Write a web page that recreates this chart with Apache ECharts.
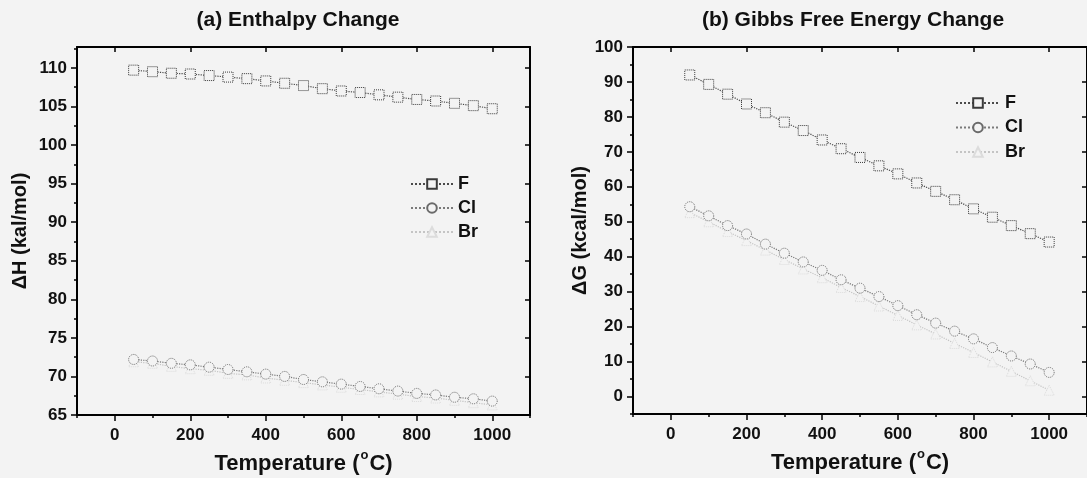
<!DOCTYPE html>
<html>
<head>
<meta charset="utf-8">
<script src="https://cdn.jsdelivr.net/npm/echarts@6/dist/echarts.min.js"></script>
<style>
  html, body { margin: 0; padding: 0; background: #f3f3f3; }
  #main { width: 1087px; height: 478px; }
</style>
</head>
<body>
<div id="main"></div>
<script>
var temps = [50, 100, 150, 200, 250, 300, 350, 400, 450, 500, 550, 600, 650, 700, 750, 800, 850, 900, 950, 1000];

// (a) enthalpy, kcal/mol
var dH_F  = [109.7, 109.5, 109.3, 109.2, 109.0, 108.8, 108.6, 108.3, 108.0, 107.7, 107.3, 107.0, 106.8, 106.5, 106.2, 105.9, 105.7, 105.4, 105.1, 104.7];
var dH_Cl = [72.2, 72.0, 71.7, 71.5, 71.2, 70.9, 70.6, 70.3, 70.0, 69.6, 69.3, 69.0, 68.7, 68.4, 68.1, 67.8, 67.6, 67.3, 67.1, 66.8];
var dH_Br = [71.9, 71.7, 71.3, 71.0, 70.8, 70.4, 70.2, 69.8, 69.5, 69.2, 68.9, 68.6, 68.3, 68.0, 67.7, 67.4, 67.2, 66.9, 66.6, 66.3];

// (b) Gibbs free energy, kcal/mol
var dG_F  = [92.0, 89.3, 86.5, 83.7, 81.2, 78.5, 76.1, 73.4, 70.9, 68.4, 66.0, 63.7, 61.1, 58.7, 56.3, 53.7, 51.3, 48.9, 46.6, 44.2];
var dG_Cl = [54.3, 51.7, 48.9, 46.5, 43.6, 41.0, 38.5, 36.1, 33.4, 31.0, 28.6, 26.0, 23.4, 21.0, 18.7, 16.5, 14.0, 11.6, 9.3, 6.9];
var dG_Br = [52.6, 50.0, 47.2, 44.6, 41.9, 39.2, 36.5, 34.0, 31.2, 28.6, 25.9, 23.2, 20.5, 17.9, 15.2, 12.6, 9.9, 7.2, 4.5, 1.8];

var xMajor = [0, 200, 400, 600, 800, 1000];
var xMinor = [-100, 100, 300, 500, 700, 900, 1100];
var yMajorA = [65, 70, 75, 80, 85, 90, 95, 100, 105, 110];
var yMinorA = [67.5, 72.5, 77.5, 82.5, 87.5, 92.5, 97.5, 102.5, 107.5, 112.5];
var yMajorB = [0, 10, 20, 30, 40, 50, 60, 70, 80, 90, 100];
var yMinorB = [-5, 5, 15, 25, 35, 45, 55, 65, 75, 85, 95];

var bg = '#f3f3f3';
var font = '"Liberation Sans", Arial, sans-serif';

function pairs(xs, ys) {
    return xs.map(function (x, i) { return [x, ys[i]]; });
}

function plain(v) { return String(v); }

var tickLabel = { fontFamily: font, fontSize: 17, fontWeight: 'bold', color: '#111', formatter: plain };

function xAxesFor(g, gap) {
    return [
        {
            gridIndex: g, type: 'value', position: 'bottom', min: -100, max: 1100,
            name: '{t|Temperature (}{sup|o}{t|C)}', nameLocation: 'middle', nameGap: gap,
            nameTextStyle: {
                rich: {
                    t: { fontFamily: font, fontSize: 22, fontWeight: 'bold', color: '#111', lineHeight: 26, verticalAlign: 'bottom' },
                    sup: { fontFamily: font, fontSize: 13, fontWeight: 'bold', color: '#111', lineHeight: 26, verticalAlign: 'top', padding: [0, 1, 0, 1] }
                }
            },
            axisLine: { show: true, onZero: false, lineStyle: { color: '#000', width: 2 } },
            axisTick: { show: true, inside: false, length: 6, customValues: xMajor, lineStyle: { color: '#000', width: 1.5 } },
            axisLabel: Object.assign({ show: true, customValues: xMajor, margin: 12 }, tickLabel),
            splitLine: { show: false }
        },
        {
            gridIndex: g, type: 'value', position: 'bottom', min: -100, max: 1100,
            axisLine: { show: false, onZero: false },
            axisTick: { show: true, inside: false, length: 3, customValues: xMinor, lineStyle: { color: '#000', width: 1.5 } },
            axisLabel: { show: false },
            splitLine: { show: false }
        },
        {
            gridIndex: g, type: 'value', position: 'top', min: -100, max: 1100,
            axisLine: { show: true, onZero: false, lineStyle: { color: '#000', width: 2 } },
            axisTick: { show: true, inside: true, length: 5, customValues: xMajor, lineStyle: { color: '#000', width: 1.5 } },
            axisLabel: { show: false },
            splitLine: { show: false }
        }
    ];
}

function yAxesFor(g, min, max, major, minor, name, gap) {
    return [
        {
            gridIndex: g, type: 'value', position: 'left', min: min, max: max,
            name: name, nameLocation: 'middle', nameGap: gap,
            nameTextStyle: { fontFamily: font, fontSize: 20, fontWeight: 'bold', color: '#111' },
            axisLine: { show: true, onZero: false, lineStyle: { color: '#000', width: 2 } },
            axisTick: { show: true, inside: false, length: 6, customValues: major, lineStyle: { color: '#000', width: 1.5 } },
            axisLabel: Object.assign({ show: true, customValues: major, margin: 10 }, tickLabel),
            splitLine: { show: false }
        },
        {
            gridIndex: g, type: 'value', position: 'left', min: min, max: max,
            axisLine: { show: false, onZero: false },
            axisTick: { show: true, inside: false, length: 3, customValues: minor, lineStyle: { color: '#000', width: 1.5 } },
            axisLabel: { show: false },
            splitLine: { show: false }
        },
        {
            gridIndex: g, type: 'value', position: 'right', min: min, max: max,
            axisLine: { show: true, onZero: false, lineStyle: { color: '#000', width: 2 } },
            axisTick: { show: true, inside: true, length: 5, customValues: major, lineStyle: { color: '#000', width: 1.5 } },
            axisLabel: { show: false },
            splitLine: { show: false }
        }
    ];
}

var styles = {
    F:  { symbol: 'rect', line: '#4a4a4a', border: '#3a3a3a' },
    Cl: { symbol: 'circle', line: '#7a7a7a', border: '#6a6a6a' },
    Br: { symbol: 'triangle', line: '#c4c4c4', border: '#dcdcdc' }
};

function makeSeries(name, data, xi, yi) {
    var s = styles[name];
    return {
        name: name, type: 'line', xAxisIndex: xi, yAxisIndex: yi,
        data: pairs(temps, data),
        symbol: s.symbol, symbolSize: 10,
        lineStyle: { color: s.line, width: 1.2, type: 'dotted' },
        itemStyle: { color: bg, borderColor: s.border, borderWidth: 1, borderType: 'dotted' },
        z: name === 'Br' ? 2 : (name === 'Cl' ? 3 : 4)
    };
}

var legendText = { fontFamily: font, fontSize: 18, fontWeight: 'bold', color: '#111' };
var titleText = { fontFamily: font, fontSize: 21, fontWeight: 'bold', color: '#111' };

var dom = document.getElementById('main');
var myChart = echarts.init(dom, null, { renderer: 'canvas' });
var option = {
    backgroundColor: bg,
    animation: false,
    title: [
        { text: '(a) Enthalpy Change', left: 293, top: 5, textAlign: 'center', textStyle: titleText },
        { text: '(b) Gibbs Free Energy Change', left: 848, top: 5, textAlign: 'center', textStyle: titleText }
    ],
    legend: [
        { orient: 'vertical', left: 405, top: 170, itemWidth: 42, itemHeight: 12, itemGap: 6,
          data: ['F', 'Cl', 'Br'], textStyle: legendText, selectedMode: false },
        { orient: 'vertical', left: 950, top: 89, itemWidth: 44, itemHeight: 12, itemGap: 6.5,
          data: ['F', 'Cl', 'Br'], textStyle: legendText, selectedMode: false }
    ],
    grid: [
        { left: 77, top: 47, width: 453, height: 368, outerBoundsMode: 'none', containLabel: false },
        { left: 633, top: 47, width: 454, height: 367, outerBoundsMode: 'none', containLabel: false }
    ],
    xAxis: xAxesFor(0, 34).concat(xAxesFor(1, 31)),
    yAxis: yAxesFor(0, 65, 112.7, yMajorA, yMinorA, 'ΔH (kal/mol)', 47)
        .concat(yAxesFor(1, -5, 100, yMajorB, yMinorB, 'ΔG (kcal/mol)', 41)),
    series: [
        makeSeries('Br', dH_Br, 0, 0),
        makeSeries('Cl', dH_Cl, 0, 0),
        makeSeries('F', dH_F, 0, 0),
        makeSeries('Br', dG_Br, 3, 3),
        makeSeries('Cl', dG_Cl, 3, 3),
        makeSeries('F', dG_F, 3, 3)
    ]
};
if (option && typeof option === "object") {
    myChart.setOption(option, true);
}
</script>
</body>
</html>
